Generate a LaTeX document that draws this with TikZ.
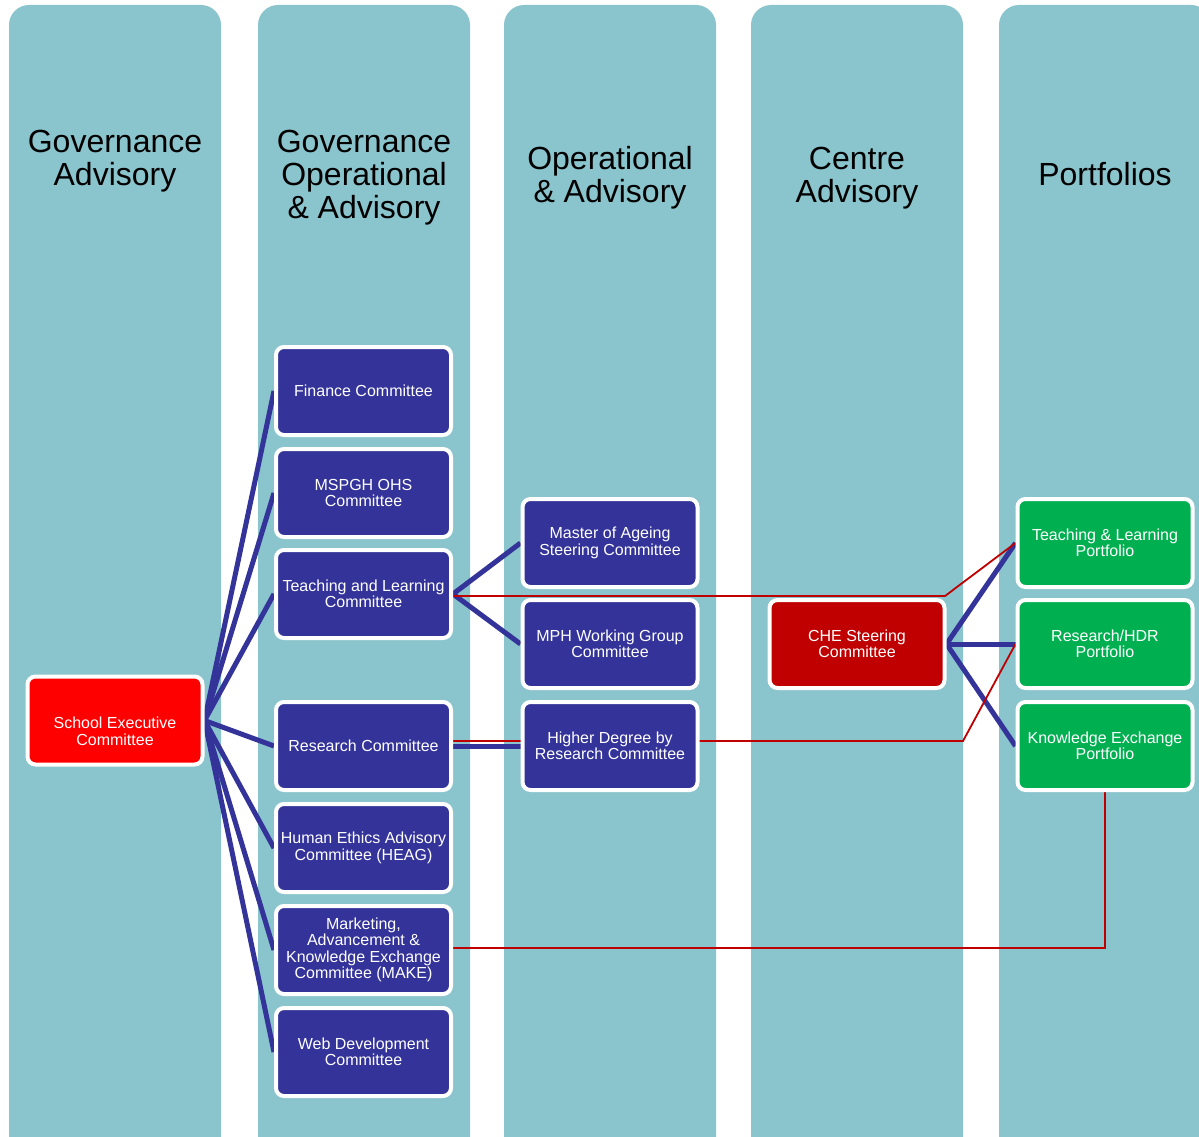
\documentclass[tikz,border=0pt]{standalone}
\usepackage{fontspec}
\setmainfont{Liberation Sans}
\usetikzlibrary{calc}
\definecolor{colteal}{HTML}{8AC4CC}
\definecolor{navy}{HTML}{333399}
\definecolor{brightred}{HTML}{FF0000}
\definecolor{darkred}{HTML}{C00000}
\definecolor{portgreen}{HTML}{00B050}
\pgfdeclarelayer{bg}
\pgfdeclarelayer{lines}
\pgfsetlayers{bg,lines,main}
\begin{document}
\begin{tikzpicture}[x=1pt,y=-1pt,
  col/.style={fill=colteal, rounded corners=20pt},
  coltitle/.style={font=\fontsize{32}{33}\selectfont, align=center, text=black, inner sep=0pt},
  box/.style={draw=white, line width=4pt, rounded corners=8pt, minimum width=175pt, minimum height=88pt,
    text=white, align=center, font=\fontsize{16}{16.5}\selectfont, inner sep=1pt},
  boxtext/.style={text=white, align=center, font=\fontsize{16}{16.5}\selectfont, inner sep=1pt},
  navybox/.style={box, fill=navy},
  bluelink/.style={draw=navy, line width=5pt},
  redlink/.style={draw=darkred, line width=1.8pt}
]
\useasboundingbox (0,0) rectangle (1199,1137);
\begin{pgfonlayer}{bg}
\fill[col] (9,5) rectangle (221,1170);
\fill[col] (258,5) rectangle (470,1170);
\fill[col] (504,5) rectangle (716,1170);
\fill[col] (751,5) rectangle (963,1170);
\fill[col] (999,5) rectangle (1211,1170);
\end{pgfonlayer}

\node[coltitle] (t1) at (115,161) {Governance\\Advisory};
\node[coltitle] (t2) at (364,178) {Governance\\Operational\\\& Advisory};
\node[coltitle] (t3) at (610,178) {Operational\\\& Advisory};
\node[coltitle] (t4) at (857,178) {Centre\\Advisory};
\node[coltitle] (t5) at (1105,174) {Portfolios};

\node[box, fill=brightred] (se) at (115,720.5) {};
\node[boxtext] (setext) at (115,731.5) {School Executive\\Committee};

\node[navybox] (fin) at (363.5,391) {Finance Committee};
\node[navybox] (ohs) at (363.5,493) {MSPGH OHS\\Committee};
\node[navybox] (tl)  at (363.5,594) {Teaching and Learning\\Committee};
\node[navybox] (rc)  at (363.5,746) {Research Committee};
\node[navybox] (he)  at (363.5,848) {Human Ethics Advisory\\Committee (HEAG)};
\node[navybox] (mk)  at (363.5,950) {Marketing,\\Advancement \&\\Knowledge Exchange\\Committee (MAKE)};
\node[navybox] (web) at (363.5,1052) {Web Development\\Committee};

\node[navybox] (ma)  at (610,543) {Master of Ageing\\Steering Committee};
\node[navybox] (mph) at (610,644) {MPH Working Group\\Committee};
\node[navybox] (hdr) at (610,746) {Higher Degree by\\Research Committee};

\node[box, fill=darkred] (che) at (857,644) {CHE Steering\\Committee};

\node[box, fill=portgreen] (tlp) at (1105,543) {Teaching \& Learning\\Portfolio};
\node[box, fill=portgreen] (rhp) at (1105,644) {Research/HDR\\Portfolio};
\node[box, fill=portgreen] (kep) at (1105,746) {Knowledge Exchange\\Portfolio};

\coordinate (r1) at (945,596);
\coordinate (r2) at (963,741);

\begin{pgfonlayer}{lines}
\foreach \n in {fin,ohs,tl,rc,he,mk,web}
  \draw[bluelink] (se.east) -- (\n.west);
\draw[bluelink] (tl.east) -- (ma.west);
\draw[bluelink] (tl.east) -- (mph.west);
\draw[bluelink] (rc.east) -- (hdr.west);
\draw[bluelink] (che.east) -- (tlp.west);
\draw[bluelink] (che.east) -- (rhp.west);
\draw[bluelink] (che.east) -- (kep.west);
\draw[redlink] (tl.east |- r1) -- (r1) -- (tlp.west);
\draw[redlink] (rc.east |- r2) -- (r2) -- (rhp.west);
\draw[redlink] ($(mk.east)+(0,-2)$) -| (kep.south);
\end{pgfonlayer}
\end{tikzpicture}
\end{document}
